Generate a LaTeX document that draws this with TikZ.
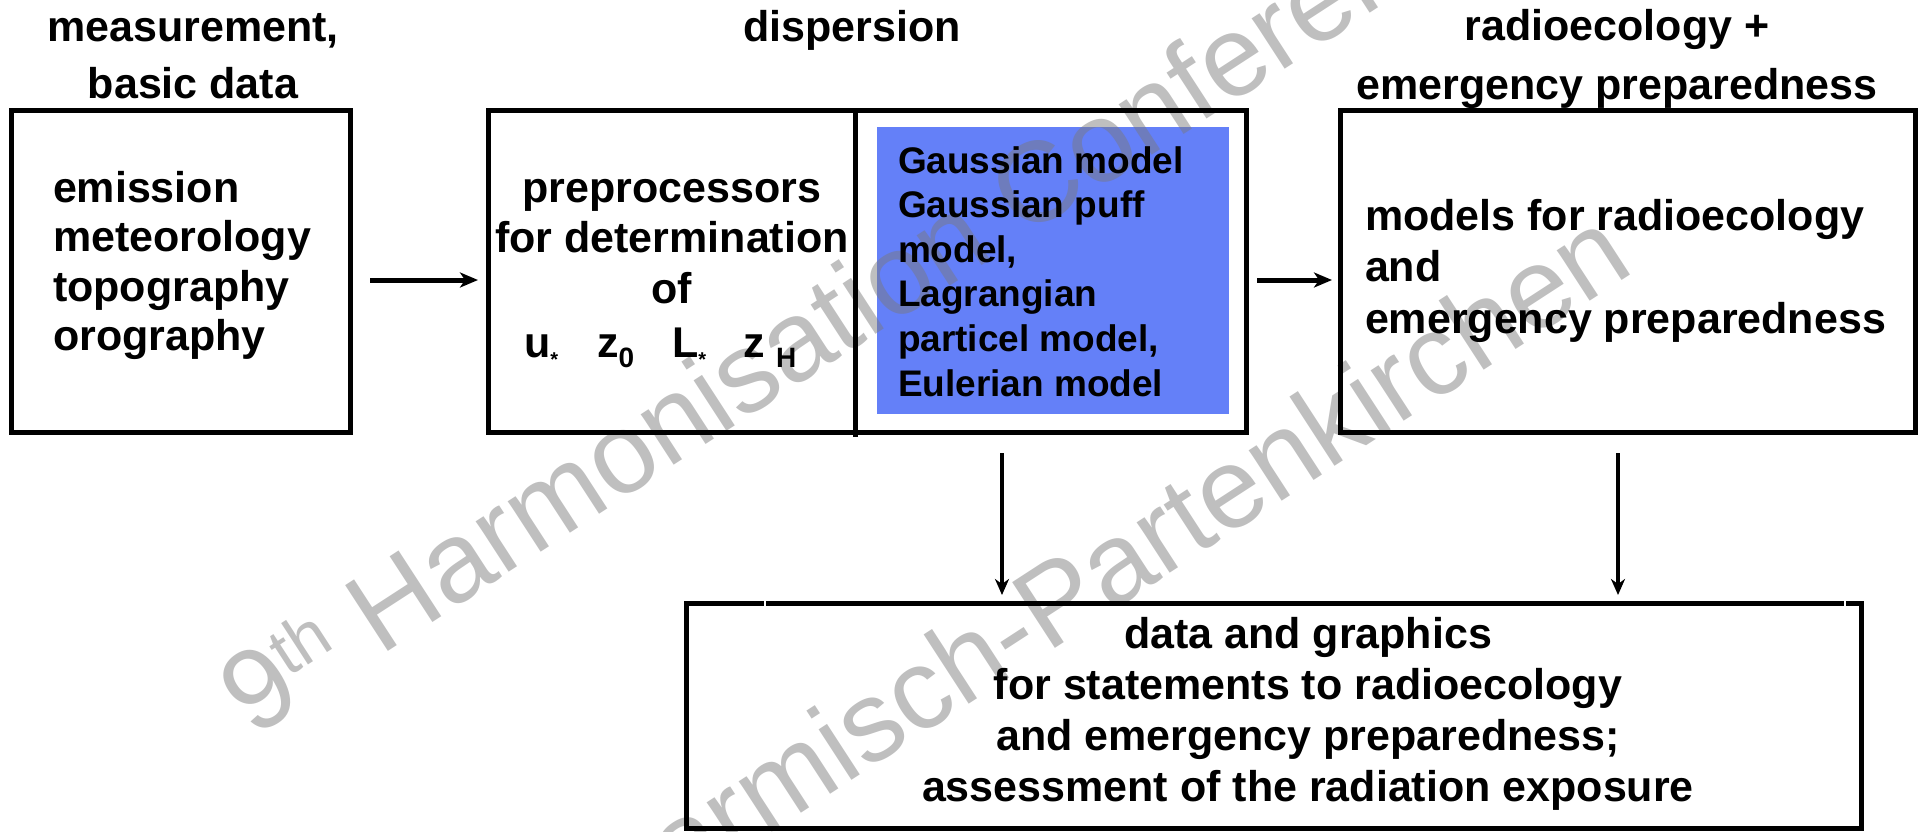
\documentclass[tikz,border=0pt]{standalone}
\usepackage{fontspec}
\setmainfont{Liberation Sans}
\usetikzlibrary{arrows.meta}
\definecolor{boxblue}{RGB}{100,128,248}
\definecolor{wmgray}{RGB}{191,191,191}
\definecolor{wmblue}{RGB}{110,124,188}
\newcommand\tlines[2]{\begin{tabular}[t]{@{}#1@{}}#2\end{tabular}}
\newcommand\subast{\raisebox{-9pt}{\fontsize{20}{20}\selectfont *}}
\newcommand\subtxt[1]{\raisebox{-10pt}{\fontsize{28}{28}\selectfont #1}}
\newcommand\wmlineA{9\raisebox{32pt}{\fontsize{68}{68}\selectfont th} Harmonisation Conference}
\newcommand\wmlineB{Garmisch-Partenkirchen}
\begin{document}
\begin{tikzpicture}[x=1pt,y=-1pt,
  box/.style={draw=black, line width=5pt, inner sep=0pt, outer sep=0pt},
  txt/.style={inner sep=0pt, outer sep=0pt, font=\fontsize{43}{50}\selectfont\bfseries},
  wm/.style={inner sep=0pt, anchor=base west, rotate=33, font=\fontsize{114}{114}\selectfont},
  harr/.style={line width=5pt, -{Stealth[length=18pt,width=15pt,inset=5pt]}},
  varr/.style={line width=4pt, -{Stealth[length=16pt,width=14pt,inset=5pt]}},
  notch/.style={draw=white, line width=2.5pt},
]
\useasboundingbox (0,0) rectangle (1920,831);
% watermark
\node[wm, text=wmgray] (wm1) at (253,739) {\wmlineA};
\node[wm, text=wmgray] (wm2) at (606,940) {\wmlineB};
% boxes
\node[box, minimum width=339pt, minimum height=322pt] (b1) at (180.5,271) {};
\node[box, minimum width=758pt, minimum height=322pt] (b2) at (867,271) {};
\coordinate (divtop) at (855,110);
\coordinate (divbot) at (855,437);
\draw[line width=5pt] (divtop) -- (divbot);
\node[fill=boxblue, minimum width=352pt, minimum height=287pt, inner sep=0pt, outer sep=0pt] (blue) at (1053,270.5) {};
\begin{scope}
\clip (blue.north west) rectangle (blue.south east);
\node[wm, text=wmblue] (wm1b) at (253,739) {\wmlineA};
\node[wm, text=wmblue] (wm2b) at (606,940) {\wmlineB};
\end{scope}
\node[box, minimum width=575pt, minimum height=322pt] (b3) at (1627.5,271) {};
\node[box, minimum width=1175pt, minimum height=225pt] (b4) at (1273.5,715.5) {};
\coordinate (n1a) at (765,600);
\coordinate (n1b) at (765,606);
\coordinate (n2a) at (1845,600);
\coordinate (n2b) at (1845,606);
\draw[notch] (n1a) -- (n1b);
\draw[notch] (n2a) -- (n2b);
% headings
\node[txt, anchor=base, font=\fontsize{43}{57}\selectfont\bfseries] (h1) at (193,41) {\tlines{c}{measurement,\\basic data}};
\node[txt, anchor=base] (h2) at (852,41) {dispersion};
\node[txt, anchor=base, font=\fontsize{43}{59}\selectfont\bfseries] (h3) at (1617,40) {\tlines{c}{radioecology +\\emergency preparedness}};
% box texts
\node[txt, anchor=base west, font=\fontsize{43}{49.5}\selectfont\bfseries] (t1) at (53,202) {\tlines{l}{emission\\meteorology\\topography\\orography}};
\node[txt, anchor=base, font=\fontsize{43}{50.5}\selectfont\bfseries] (t2) at (672,202) {\tlines{c}{preprocessors\\for determination\\of}};
\node[txt, anchor=base west] (t2f) at (524,357) {u\subast\hspace{39pt}z\subtxt{0}\hspace{38pt}L\subast\hspace{37pt}z\hspace{11.5pt}\subtxt{H}};
\node[txt, anchor=base west, font=\fontsize{37}{44.6}\selectfont\bfseries] (t3) at (898,173) {\tlines{l}{Gaussian model\\Gaussian puff\\model,\\Lagrangian\\particel model,\\Eulerian model}};
\node[txt, anchor=base west, font=\fontsize{43}{51.5}\selectfont\bfseries] (t4) at (1365,230) {\tlines{l}{models for radioecology\\and\\emergency preparedness}};
\node[txt, anchor=base, font=\fontsize{43}{51}\selectfont\bfseries] (t5) at (1308,648) {\tlines{c}{data and graphics\\for statements to radioecology\\and emergency preparedness;\\assessment of the radiation exposure}};
% arrows
\draw[harr, shorten <=20pt, shorten >=10pt] ([yshift=-9pt]b1.east) -- ([yshift=-9pt]b2.west);
\draw[harr, shorten <=11pt, shorten >=8pt] ([yshift=-9pt]b2.east) -- ([yshift=-9pt]b3.west);
\coordinate (d1) at (1002,453);
\coordinate (d2) at (1618,453);
\draw[varr, shorten >=8pt] (d1) -- (d1 |- b4.north);
\draw[varr, shorten >=8pt] (d2) -- (d2 |- b4.north);
\end{tikzpicture}
\end{document}
